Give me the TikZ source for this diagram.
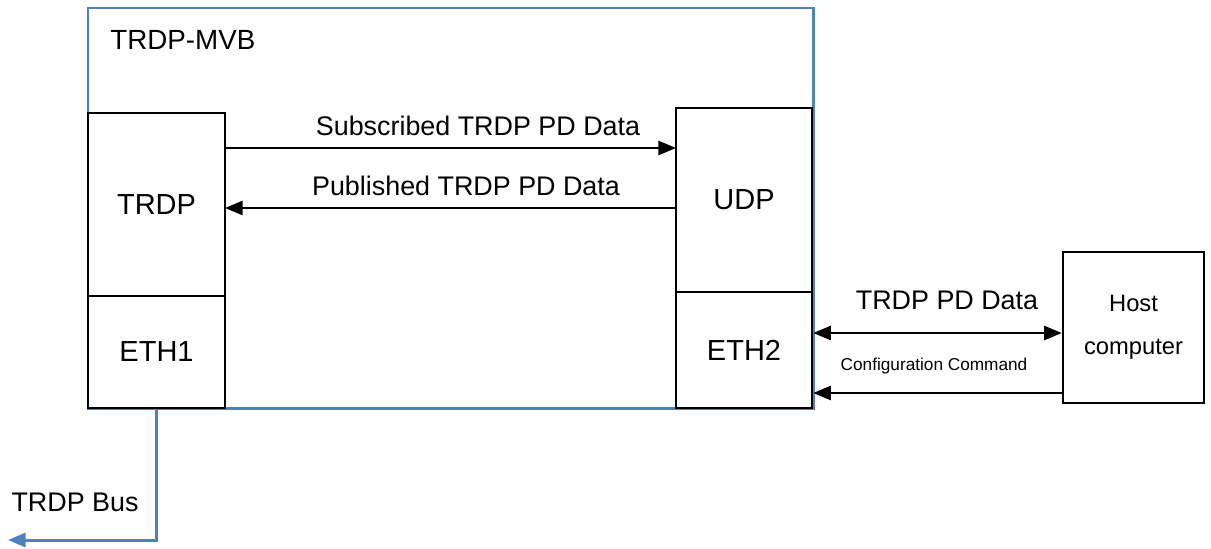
\documentclass[tikz,border=0pt]{standalone}
\usepackage{fontspec}
\setmainfont{Liberation Sans}
\definecolor{mvbBlue}{HTML}{4F81BD}
\usetikzlibrary{positioning,arrows.meta}

\begin{document}
\begin{tikzpicture}[
  box/.style={draw=black, line width=1.4pt, fill=white, inner sep=0pt,
    font=\fontsize{16.5}{19}\selectfont},
  arr/.style={-{Triangle[length=10pt,width=8pt]}, line width=1.3pt},
  dblarr/.style={{Triangle[length=10pt,width=8pt]}-{Triangle[length=10pt,width=8pt]}, line width=1.3pt},
  bus/.style={-{Triangle[length=10pt,width=8pt]}, line width=1.7pt, color=mvbBlue},
  lbl/.style={font=\fontsize{15.3}{18}\selectfont, inner sep=0pt}
]
  \useasboundingbox (0,0) rectangle (24.22,-10.96);

  \node[draw=mvbBlue, line width=1.7pt, minimum width=14.5cm, minimum height=8cm] (mvb) at (9.01,-4.16) {};
  \node[lbl, anchor=west, font=\fontsize{15.8}{18}\selectfont] (mvbname) at (2.2,-0.8) {TRDP-MVB};

  \node[box, minimum width=2.74cm, minimum height=3.66cm] (trdp) at (3.13,-4.09) {TRDP};
  \node[box, minimum width=2.74cm, minimum height=2.24cm] (eth1) at (3.13,-7.04) {ETH1};
  \node[box, minimum width=2.72cm, minimum height=3.68cm] (udp) at (14.88,-4.0) {UDP};
  \node[box, minimum width=2.72cm, minimum height=2.32cm] (eth2) at (14.88,-7.0) {ETH2};
  \node[box, minimum width=2.82cm, minimum height=3.02cm, align=center,
    font=\fontsize{13.5}{24.4}\selectfont] (host) at (22.67,-6.55) {Host\\computer};

  \coordinate (subin) at (13.52,-2.96);
  \coordinate (pubin) at (4.5,-4.16);
  \coordinate (busend) at (0.16,-10.8);

  \draw[arr] (trdp.east |- subin) -- (subin);
  \node[lbl] (sublbl) at (9.56,-2.52) {Subscribed TRDP PD Data};
  \draw[arr] (udp.west |- pubin) -- (pubin);
  \node[lbl] (publbl) at (9.32,-3.72) {Published TRDP PD Data};

  \draw[dblarr] (eth2.east |- 0,-6.66) -- (host.west |- 0,-6.66);
  \node[lbl] (pdlbl) at (18.94,-6.0) {TRDP PD Data};
  \draw[arr] (host.west |- 0,-7.86) -- (eth2.east |- 0,-7.86);
  \node[lbl, font=\fontsize{9.8}{12}\selectfont] (cfglbl) at (18.68,-7.32) {Configuration Command};

  \draw[bus] (eth1.south) |- (busend);
  \node[lbl] (buslbl) at (1.5,-10.04) {TRDP Bus};
\end{tikzpicture}
\end{document}
